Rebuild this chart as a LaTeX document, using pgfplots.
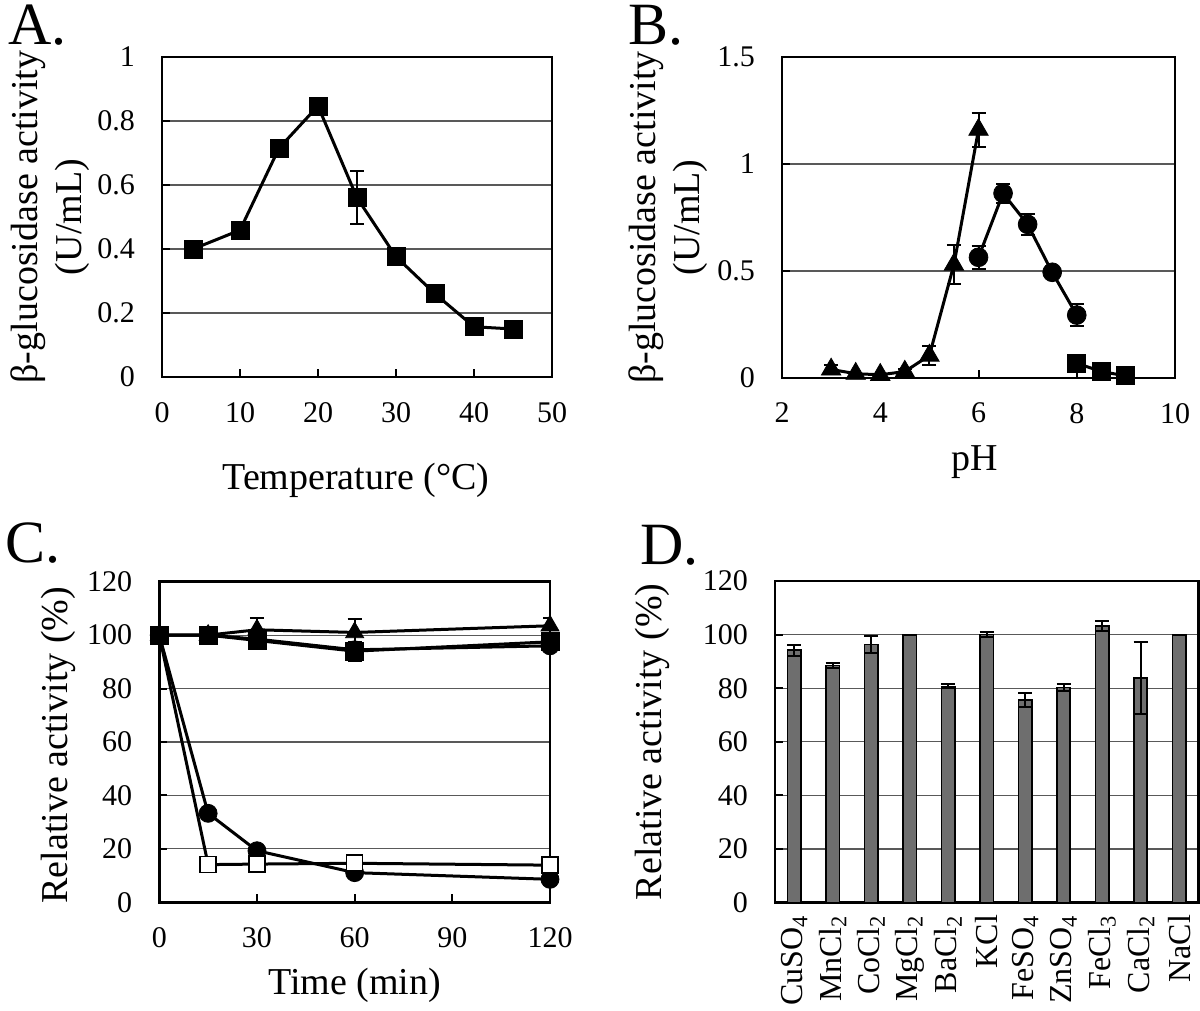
\documentclass[border=0pt]{standalone}
\usepackage{fontspec}
\setmainfont{Liberation Serif}
\usepackage{pgfplots}
\pgfplotsset{compat=1.18}

\pgfplotsset{
 panel/.style={
  scale only axis,
  axis line style={line width=1.3pt},
  tick align=inside,
  tick pos=left,
  major tick length=4pt,
  every tick/.append style={black, line width=1pt},
  ymajorgrids,
  grid style={line width=0.6pt, black!65},
  tick label style={font=\fontsize{15}{18}\selectfont},
  /pgf/number format/assume math mode=true,
  yticklabel style={xshift=-10pt},
  label style={font=\fontsize{19}{22}\selectfont},
  ylabel style={anchor=center, align=center},
  xlabel style={anchor=center},
  error bars/error bar style={line width=1pt, black},
  error bars/error mark options={rotate=90, mark size=3.5pt, line width=1pt, black},
 },
 ln/.style={black, line width=1.5pt, mark options={solid, fill=black, line width=0.4pt}},
}

\begin{document}
\begin{tikzpicture}
\path[use as bounding box] (0,0) rectangle (600pt,505.5pt);

% Panel letters
\node[anchor=base west, inner sep=0pt, font=\fontsize{30}{34}\selectfont] at (4pt,483pt) {A.};
\node[anchor=base west, inner sep=0pt, font=\fontsize{30}{34}\selectfont] at (314pt,483pt) {B.};
\node[anchor=base west, inner sep=0pt, font=\fontsize{30}{34}\selectfont] at (2.5pt,224pt) {C.};
\node[anchor=base west, inner sep=0pt, font=\fontsize{30}{34}\selectfont] at (320pt,223pt) {D.};

% ---------------- A ----------------
\begin{axis}[panel,
  at={(81pt,317pt)}, anchor=south west,
  width=195pt, height=160pt,
  xmin=0, xmax=50, ymin=0, ymax=1,
  xtick={0,10,...,50}, ytick={0,0.2,...,1},
  xticklabel style={yshift=-9pt},
  ylabel={β-glucosidase activity\\(U/mL)},
  ylabel style={at={(axis description cs:-0.287,0.5)}},
  xlabel={Temperature (°C)},
  xlabel style={at={(axis description cs:0.497,-0.322)}},
]
\addplot[ln, mark=square*, mark size=4.5pt,
  error bars/.cd, y dir=both, y explicit]
  table[x=x, y=y, y error=e] {
  x y e
  4 0.40 0
  10 0.459 0
  15 0.715 0
  20 0.847 0
  25 0.56 0.083
  30 0.376 0
  35 0.26 0
  40 0.157 0
  45 0.15 0
};
\end{axis}

% ---------------- B ----------------
\begin{axis}[panel,
  at={(391pt,316.5pt)}, anchor=south west,
  width=196.5pt, height=160.5pt,
  xmin=2, xmax=10, ymin=0, ymax=1.5,
  xtick={2,4,...,10}, ytick={0,0.5,1,1.5},
  xticklabel style={yshift=-9pt},
  ylabel={β-glucosidase activity\\(U/mL)},
  ylabel style={at={(axis description cs:-0.29,0.5)}},
  xlabel={pH},
  xlabel style={at={(axis description cs:0.49,-0.262)}},
]
\addplot[ln, mark=triangle*, mark size=5.6pt,
  error bars/.cd, y dir=both, y explicit]
  table[x=x, y=y, y error=e] {
  x y e
  3 0.04 0.02
  3.5 0.02 0
  4 0.015 0
  4.5 0.03 0.01
  5 0.105 0.045
  5.5 0.53 0.09
  6 1.16 0.08
};
\addplot[ln, mark=*, mark size=4.7pt,
  error bars/.cd, y dir=both, y explicit]
  table[x=x, y=y, y error=e] {
  x y e
  6 0.564 0.055
  6.5 0.863 0.045
  7 0.718 0.05
  7.5 0.494 0.01
  8 0.294 0.05
};
\addplot[ln, mark=square*, mark size=4.5pt]
  table[x=x, y=y] {
  x y
  8 0.069
  8.5 0.03
  9 0.01
};
\end{axis}

% ---------------- C ----------------
\begin{axis}[panel,
  at={(79.65pt,54.35pt)}, anchor=south west,
  width=195.35pt, height=160.3pt,
  xmin=0, xmax=120, ymin=0, ymax=120,
  xtick={0,30,60,90,120}, ytick={0,20,...,120},
  xticklabel style={yshift=-9pt},
  ylabel={Relative activity (\%)},
  ylabel style={at={(axis description cs:-0.259,0.49)}},
  xlabel={Time (min)},
  xlabel style={at={(axis description cs:0.50,-0.258)}},
]
\addplot[ln, mark=*, mark size=4.5pt]
  table[x=x, y=y] {
  x y
  0 100
  15 100
  30 98.5
  60 94.5
  120 96
};
\addplot[ln, mark=square*, mark size=4.5pt,
  error bars/.cd, y dir=both, y explicit]
  table[x=x, y=y, y error=e] {
  x y e
  0 100 0
  15 100 0
  30 98 0
  60 94 3.5
  120 97.5 0
};
\addplot[ln, mark=triangle*, mark size=5.2pt,
  error bars/.cd, y dir=both, y explicit]
  table[x=x, y=y, y error=e] {
  x y e
  0 100 0
  15 100 0
  30 102 4.5
  60 101 5
  120 103.5 3
};
\addplot[ln, mark=*, mark size=4.5pt]
  table[x=x, y=y] {
  x y
  0 100
  15 33.3
  30 19.3
  60 11.1
  120 8.6
};
\addplot[ln, mark=square*, mark size=4pt, mark options={solid, fill=white, draw=black, line width=0.8pt}]
  table[x=x, y=y] {
  x y
  0 100
  15 14.1
  30 14.3
  60 14.6
  120 13.9
};
\addplot[ln, mark=square*, mark size=4.5pt, only marks] coordinates {(0,100)};
\end{axis}

% ---------------- D ----------------
\begin{axis}[panel,
  at={(387.5pt,54.15pt)}, anchor=south west,
  width=211.65pt, height=160.85pt,
  xmin=-0.5, xmax=10.5, ymin=0, ymax=120,
  ytick={0,20,...,120},
  xtick={0,...,10},
  xticklabels={CuSO\textsubscript{4}, MnCl\textsubscript{2}, CoCl\textsubscript{2}, MgCl\textsubscript{2}, BaCl\textsubscript{2}, KCl, FeSO\textsubscript{4}, ZnSO\textsubscript{4}, FeCl\textsubscript{3}, CaCl\textsubscript{2}, NaCl},
  xticklabel style={rotate=90, anchor=east, inner sep=6pt, font=\fontsize{16}{18}\selectfont},
  xtick style={draw=none},
  ylabel={Relative activity (\%)},
  ylabel style={at={(axis description cs:-0.29,0.5)}},
]
\addplot[ybar, bar width=6.65pt, fill=black!57, draw=black, line width=0.8pt,
  error bars/.cd, y dir=both, y explicit]
  table[x=x, y=y, y error=e] {
  x y e
  0 94.2 2.0
  1 88.5 0.8
  2 96.3 3.0
  3 100 0
  4 80.7 0.8
  5 100 0.9
  6 75.5 2.6
  7 80.3 1.3
  8 103.2 1.9
  9 83.8 13.4
  10 100 0
};
\end{axis}
\end{tikzpicture}
\end{document}
